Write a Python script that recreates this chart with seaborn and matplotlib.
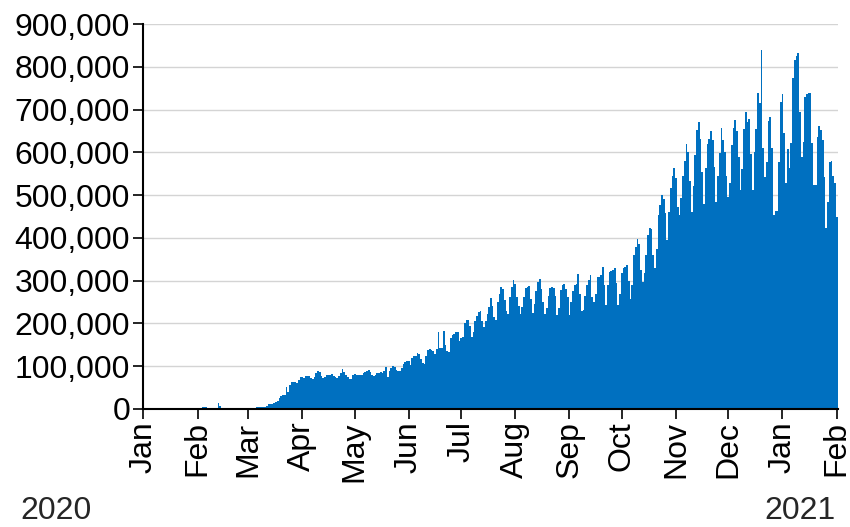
import numpy as np
import pandas as pd
import matplotlib
matplotlib.use("Agg")
import matplotlib.pyplot as plt
import seaborn as sns
from matplotlib.ticker import FuncFormatter

# Daily new cases (thousands), one list per month
jan_2020 = [0, 0, 0, 0, 0, 0, 0, 0, 0, 0, 0, 0, 0, 0, 0, 0, 0, 0, 0.1, 0.1,
            0.2, 0.3, 0.4, 0.6, 0.7, 0.8, 1.1, 1.5, 1.7, 2.0, 2.1]
feb_2020 = [2.6, 2.8, 3.2, 3.9, 3.7, 3.7, 3.3, 2.7, 3.0, 2.5, 2.1, 1.9, 15.1, 6.3, 2.6,
            2.1, 2.0, 1.9, 1.8, 0.6, 1.0, 1.0, 0.7, 0.6, 0.9, 0.8, 1.1, 1.4, 1.8]
mar_2020 = [2.0, 2.0, 2.4, 2.3, 2.7, 3.9, 3.8, 4.0, 4.7, 4.5, 4.6, 7.2, 10.7, 10.9, 10.8,
            14.0, 15.9, 19.0, 25.0, 30.0, 33.0, 33.5, 52.0, 40.0, 56.0, 62.0, 64.0, 62.0,
            60.0, 68.0, 74.0]
apr_2020 = [74, 72, 76, 78, 76, 73, 71, 75, 84, 89, 86, 78, 72, 75, 79, 80, 79, 82, 78,
            74, 73, 77, 85, 93, 86, 80, 75, 71, 71, 80]
may_2020 = [82, 80, 79, 80, 80, 84, 87, 89, 91, 86, 79, 76, 80, 84, 85, 86, 84, 88, 98,
            74, 90, 97, 100, 98, 92, 90, 88, 96, 105, 110, 112]
jun_2020 = [112, 104, 119, 124, 125, 131, 128, 118, 108, 106, 125, 138, 141, 139, 135,
            128, 140, 181, 143, 142, 183, 150, 136, 134, 165, 173, 175, 180, 181, 159]
jul_2020 = [165, 169, 200, 208, 208, 195, 169, 180, 205, 218, 227, 229, 205, 191, 205,
            223, 239, 259, 240, 215, 208, 251, 270, 286, 280, 255, 230, 223, 262, 285, 301]
aug_2020 = [292, 262, 240, 223, 238, 262, 282, 286, 288, 258, 225, 245, 275, 296, 304,
            280, 250, 222, 235, 265, 282, 286, 284, 264, 220, 235, 278, 290, 292, 280, 262]
sep_2020 = [220, 250, 276, 290, 292, 316, 270, 228, 232, 265, 290, 302, 313, 262, 250,
            270, 309, 309, 313, 333, 290, 243, 290, 321, 323, 325, 329, 295, 243, 270]
oct_2020 = [318, 329, 333, 336, 300, 258, 290, 360, 379, 397, 385, 325, 297, 317, 360,
            407, 422, 420, 360, 329, 373, 453, 477, 500, 490, 458, 395, 461, 516, 544, 563]
nov_2020 = [540, 473, 453, 493, 544, 580, 620, 601, 533, 460, 521, 593, 652, 672, 631,
            555, 480, 563, 620, 632, 650, 628, 565, 485, 544, 598, 658, 630, 600, 545]
dec_2020 = [495, 528, 618, 658, 676, 650, 590, 512, 560, 655, 695, 672, 679, 595, 512,
            600, 654, 738, 716, 839, 610, 543, 577, 674, 683, 610, 453, 463, 463, 577, 718]
jan_2021 = [736, 645, 528, 608, 563, 622, 774, 816, 825, 832, 694, 589, 624, 729, 736,
            739, 739, 622, 524, 524, 636, 662, 652, 629, 542, 423, 484, 577, 580, 545, 528]
feb_2021 = [449]

month_labels = ["Jan", "Feb", "Mar", "Apr", "May", "Jun", "Jul", "Aug",
                "Sep", "Oct", "Nov", "Dec", "Jan", "Feb"]

cases = np.array(jan_2020 + feb_2020 + mar_2020 + apr_2020 + may_2020 + jun_2020
                 + jul_2020 + aug_2020 + sep_2020 + oct_2020 + nov_2020 + dec_2020
                 + jan_2021 + feb_2021) * 1000
dates = pd.date_range("2020-01-01", periods=len(cases), freq="D")
df = pd.DataFrame({"day": (dates - dates[0]).days, "cases": cases})

month_starts = pd.date_range("2020-01-01", "2021-02-01", freq="MS")
month_pos = (month_starts - dates[0]).days

sns.set_theme(style="white")
plt.rcParams["font.family"] = ["Liberation Sans", "DejaVu Sans"]

fig = plt.figure(figsize=(8.5, 5.27), dpi=100)
ax = fig.add_axes([142.5 / 850, 118 / 527, 695 / 850, 385 / 527])

sns.barplot(data=df, x="day", y="cases", native_scale=True, width=1.0,
            color="#0070c0", saturation=1, linewidth=0, errorbar=None, ax=ax)

ax.set_xlim(-0.5, 397.5)
ax.set_ylim(0, 900000)
ax.set_yticks(range(0, 900001, 100000))
ax.yaxis.set_major_formatter(FuncFormatter(lambda v, p: f"{int(v):,}"))
ax.set_xticks(month_pos)
ax.set_xticklabels(month_labels, rotation=90, va="top")
ax.set_xlabel("")
ax.set_ylabel("")

ax.yaxis.grid(True, color="#d4d4d4", linewidth=1)
ax.set_axisbelow(True)
for side in ["top", "right"]:
    ax.spines[side].set_visible(False)
for side in ["left", "bottom"]:
    ax.spines[side].set_color("black")
    ax.spines[side].set_linewidth(1.5)
ax.tick_params(axis="both", direction="out", length=7, width=1.2, color="black",
               labelsize=23, labelcolor="black", pad=2)
ax.tick_params(axis="both", bottom=True, left=True)

# year labels under the month axis
fig.text(20 / 850, 1 / 527, "2020", fontsize=23, ha="left", va="bottom")
fig.text(836 / 850, 1 / 527, "2021", fontsize=23, ha="right", va="bottom")

fig.savefig("out.png", dpi=100)
